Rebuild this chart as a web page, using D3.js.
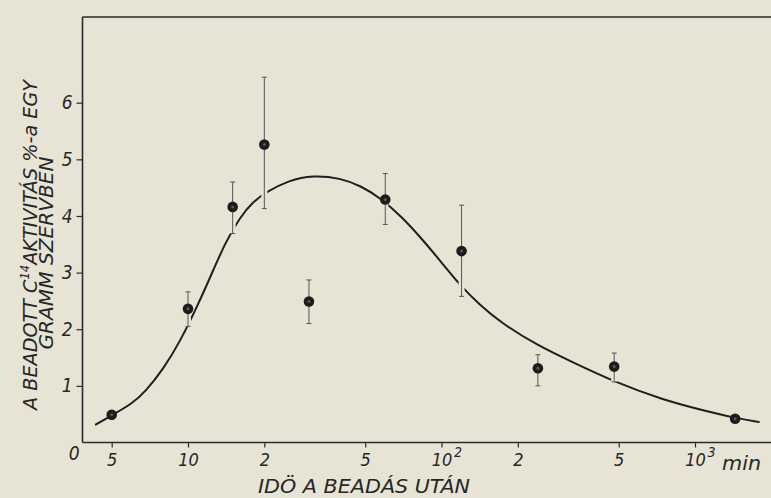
<!DOCTYPE html>
<html>
<head>
<meta charset="utf-8">
<script src="https://cdn.jsdelivr.net/npm/d3@7"></script>
<style>
  html, body { margin: 0; padding: 0; background: #e8e4d5; }
  svg { display: block; }
  text { font-family: "DejaVu Sans Condensed", "Liberation Sans Narrow", "DejaVu Sans", sans-serif; font-style: italic; fill: #262626; }
</style>
</head>
<body>
<div id="wrapper"></div>
<script>
// measured points (minutes after dosing, % activity per gram)
const sampleTimes = [5, 10, 15, 20, 30, 60, 120, 240, 480, 1440];
const sampleValues = [0.49, 2.36, 4.16, 5.26, 2.49, 4.29, 3.38, 1.31, 1.34, 0.42];
const errorLow = [0.42, 2.05, 3.69, 4.13, 2.1, 3.85, 2.58, 1.0, 1.07, 0.37];
const errorHigh = [0.56, 2.66, 4.6, 6.45, 2.87, 4.75, 4.19, 1.55, 1.58, 0.47];

// hand drawn fitted curve
const curveTimes = [4.3, 5, 6, 6.8, 8, 9.3, 11, 12.6, 14, 16, 18, 20.5, 25, 31, 40, 48, 57, 70, 85, 100, 117, 142, 170, 237, 335, 475, 750, 1050, 1450, 1800];
const curveValues = [0.31, 0.48, 0.68, 0.9, 1.3, 1.78, 2.45, 3.05, 3.52, 3.97, 4.25, 4.43, 4.63, 4.72, 4.67, 4.53, 4.33, 3.98, 3.56, 3.18, 2.8, 2.42, 2.13, 1.72, 1.4, 1.08, 0.75, 0.58, 0.43, 0.36];

// axis ticks
const xTickValues = [5, 10, 20, 50, 100, 200, 500, 1000];
const xTickLabels = ["5", "10", "2", "5", "10", "2", "5", "10"];
const xTickSup = ["", "", "", "", "2", "", "", "3"];
const yTickValues = [1, 2, 3, 4, 5, 6];

const dimensions = {
  width: 771,
  height: 498,
  left: 82.5,
  top: 17,
  bottom: 442.5,
};

const svg = d3
  .select("#wrapper")
  .append("svg")
  .attr("width", dimensions.width)
  .attr("height", dimensions.height);

svg.append("rect")
  .attr("width", dimensions.width)
  .attr("height", dimensions.height)
  .attr("fill", "#e8e4d5");

// scales
const xScale = d3.scaleLog().domain([5, 1000]).range([111.7, 695]);
const yScale = d3.scaleLinear().domain([0, 6]).range([dimensions.bottom, 102.7]);

// frame
const frame = svg.append("g").attr("stroke", "#2a2a2a").attr("stroke-width", 1.6);
frame.append("line")
  .attr("x1", dimensions.left).attr("x2", dimensions.left)
  .attr("y1", dimensions.top).attr("y2", dimensions.bottom);
frame.append("line")
  .attr("x1", dimensions.left).attr("x2", dimensions.width)
  .attr("y1", dimensions.top).attr("y2", dimensions.top);
frame.append("line")
  .attr("x1", dimensions.left).attr("x2", dimensions.width)
  .attr("y1", dimensions.bottom).attr("y2", dimensions.bottom);

// x axis
const xAxis = svg.append("g")
  .attr("transform", `translate(0, ${dimensions.bottom})`)
  .call(
    d3.axisBottom(xScale)
      .tickValues(xTickValues)
      .tickFormat((d, i) => xTickLabels[i])
      .tickSize(5)
      .tickPadding(6)
  );
xAxis.select(".domain").remove();
xAxis.selectAll(".tick line").attr("stroke", "#2a2a2a").attr("stroke-width", 1.2);
xAxis.selectAll(".tick text")
  .attr("font-size", 18)
  .attr("font-family", null)
  .attr("fill", null);

xAxis.selectAll(".tick")
  .filter((d, i) => xTickSup[i] !== "")
  .append("text")
  .attr("x", 12)
  .attr("y", 14)
  .attr("font-size", 14)
  .attr("text-anchor", "start")
  .attr("font-family", null)
  .attr("fill", null)
  .text((d) => xTickSup[xTickValues.indexOf(d)]);

svg.append("text")
  .attr("x", xScale(1000) + 27)
  .attr("y", dimensions.bottom + 27)
  .attr("font-size", 19)
  .attr("textLength", 39)
  .attr("lengthAdjust", "spacingAndGlyphs")
  .text("min");

// y axis
const yAxis = svg.append("g")
  .attr("transform", `translate(${dimensions.left}, 0)`)
  .call(
    d3.axisLeft(yScale)
      .tickValues(yTickValues)
      .tickFormat(d3.format("d"))
      .tickSize(6)
      .tickPadding(4)
  );
yAxis.select(".domain").remove();
yAxis.selectAll(".tick line").attr("stroke", "#2a2a2a").attr("stroke-width", 1.2);
yAxis.selectAll(".tick text")
  .attr("font-size", 19)
  .attr("font-family", null)
  .attr("fill", null);

svg.append("text")
  .attr("x", dimensions.left - 3)
  .attr("y", dimensions.bottom + 17)
  .attr("text-anchor", "end")
  .attr("font-size", 19)
  .text("0");

// axis titles
svg.append("text")
  .attr("x", 364)
  .attr("y", dimensions.bottom + 50)
  .attr("text-anchor", "middle")
  .attr("font-size", 19)
  .attr("textLength", 212)
  .attr("lengthAdjust", "spacingAndGlyphs")
  .text("IDÖ A BEADÁS UTÁN");

const yTitle = svg.append("text")
  .attr("transform", "translate(37, 245) rotate(-90)")
  .attr("text-anchor", "middle")
  .attr("font-size", 20)
  .attr("textLength", 330)
  .attr("lengthAdjust", "spacingAndGlyphs");
yTitle.append("tspan").text("A BEADOTT C");
yTitle.append("tspan").attr("font-size", 12).attr("dy", -8).text("14");
yTitle.append("tspan").attr("dy", 8).text("AKTIVITÁS %-a EGY");

svg.append("text")
  .attr("transform", "translate(53, 253) rotate(-90)")
  .attr("text-anchor", "middle")
  .attr("font-size", 20)
  .attr("textLength", 193)
  .attr("lengthAdjust", "spacingAndGlyphs")
  .text("GRAMM SZERVBEN");

// fitted curve
const curveData = curveTimes.map((t, i) => ({ t, v: curveValues[i] }));
const lineGenerator = d3.line()
  .x((d) => xScale(d.t))
  .y((d) => yScale(d.v))
  .curve(d3.curveBasis);

svg.append("path")
  .datum(curveData)
  .attr("d", lineGenerator)
  .attr("fill", "none")
  .attr("stroke", "#1e1e1e")
  .attr("stroke-width", 2);

// samples with error bars
const samples = sampleTimes.map((t, i) => ({
  t,
  v: sampleValues[i],
  lo: errorLow[i],
  hi: errorHigh[i],
}));

const marks = svg.append("g")
  .selectAll("g")
  .data(samples)
  .join("g")
  .attr("transform", (d) => `translate(${xScale(d.t)}, 0)`);

// paper-coloured gap where the bar crosses the curve
marks.append("line")
  .attr("y1", (d) => yScale(d.lo))
  .attr("y2", (d) => yScale(d.hi))
  .attr("stroke", "#e8e4d5")
  .attr("stroke-width", 6);

marks.append("line")
  .attr("y1", (d) => yScale(d.lo))
  .attr("y2", (d) => yScale(d.hi))
  .attr("stroke", "#555")
  .attr("stroke-width", 1);

marks.selectAll(".cap")
  .data((d) => [d.lo, d.hi])
  .join("line")
  .attr("class", "cap")
  .attr("x1", -2.5)
  .attr("x2", 2.5)
  .attr("y1", (d) => yScale(d))
  .attr("y2", (d) => yScale(d))
  .attr("stroke", "#555")
  .attr("stroke-width", 1);

marks.append("circle")
  .attr("cy", (d) => yScale(d.v))
  .attr("r", 5.3)
  .attr("fill", "#1c1c1c");

marks.append("circle")
  .attr("cy", (d) => yScale(d.v))
  .attr("r", 1.5)
  .attr("fill", "#5a5a5a");
</script>
</body>
</html>
